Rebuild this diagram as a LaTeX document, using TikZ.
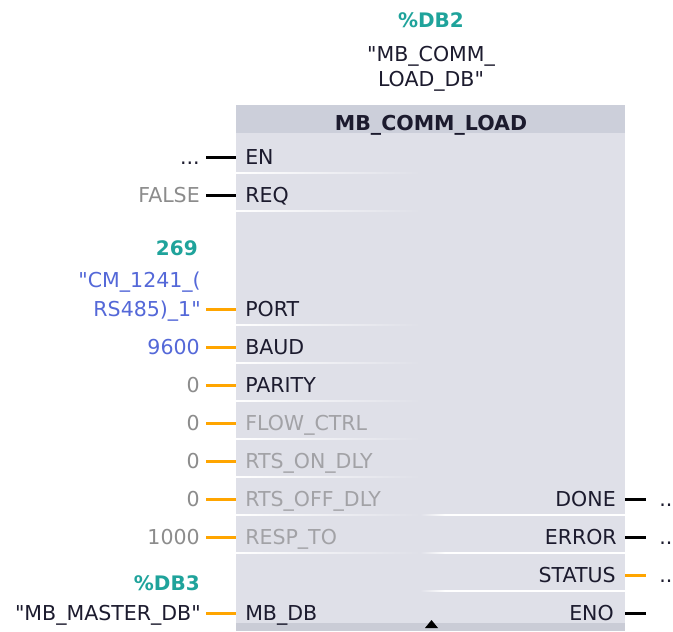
\documentclass[tikz,border=0pt]{standalone}
\usepackage{fontspec}
\setmainfont{DejaVu Sans}
\definecolor{blockfill}{HTML}{DFE0E8}
\definecolor{hdrfill}{HTML}{CCCFDA}
\definecolor{stripfill}{HTML}{CACCD6}
\definecolor{darktxt}{HTML}{1C1B2E}
\definecolor{graytxt}{HTML}{A2A2A6}
\definecolor{valgray}{HTML}{8C8C8C}
\definecolor{tealtxt}{HTML}{1FA39B}
\definecolor{bluetxt}{HTML}{5468D8}
\definecolor{wireorange}{HTML}{FFA500}
\newcommand{\qq}{\textquotedbl}
\tikzset{
  txt/.style={inner sep=0pt, font=\fontsize{15.4}{18}\selectfont},
  pinlbl/.style={txt, text=darktxt, anchor=base west},
  pingray/.style={txt, text=graytxt, anchor=base west},
  outlbl/.style={txt, text=darktxt, anchor=base east},
  valgr/.style={txt, text=valgray, anchor=base east},
  valbl/.style={txt, text=bluetxt, anchor=base east},
  valdk/.style={txt, text=darktxt, anchor=base east},
  tealb/.style={txt, text=tealtxt, font=\fontsize{15}{18}\selectfont\bfseries},
  bwire/.style={line width=2.25pt, draw=black},
  owire/.style={line width=2.25pt, draw=wireorange},
  sepl/.style={left color=white, right color=blockfill},
}
\begin{document}
\begin{tikzpicture}[x=0.75pt,y=-0.75pt]
\useasboundingbox (0,0) rectangle (673,631);
% block
\fill[blockfill] (236,105) rectangle (625,631);
\fill[hdrfill] (236,105) rectangle (625,133);
\fill[stripfill] (236,623) rectangle (625,631);
\fill[black] (425,628) -- (438,628) -- (431.5,620) -- cycle;
% separators (left)
\foreach \yy in {173,211,325,363,401,439,477,515,553}
  \shade[sepl] (236,\yy-0.8) rectangle (420,\yy+0.8);
% separators (right)
\foreach \yy in {515,553,591}{
  \shade[left color=blockfill, right color=white] (420,\yy-0.8) rectangle (445,\yy+0.8);
  \fill[white] (445,\yy-0.8) rectangle (625,\yy+0.8);
}
% title
\node[tealb, anchor=base] (inst) at (431,28) {\%DB2};
\node[txt, text=darktxt, anchor=base] (instn1) at (431,62) {\qq MB\_COMM\_};
\node[txt, text=darktxt, anchor=base] (instn2) at (431,87) {LOAD\_DB\qq};
\node[txt, text=darktxt, anchor=base, font=\fontsize{15.4}{18}\selectfont\bfseries] (hdr) at (431,130) {MB\_COMM\_LOAD};
% input pins
\node[pinlbl] (pEN) at (245,164) {EN};
\node[pinlbl] (pREQ) at (245,202) {REQ};
\node[pinlbl] (pPORT) at (245,316) {PORT};
\node[pinlbl] (pBAUD) at (245,354) {BAUD};
\node[pinlbl] (pPAR) at (245,392) {PARITY};
\node[pingray] (pFLOW) at (245,430) {FLOW\_CTRL};
\node[pingray] (pRON) at (245,468) {RTS\_ON\_DLY};
\node[pingray] (pROFF) at (245,506) {RTS\_OFF\_DLY};
\node[pingray] (pRESP) at (245,544) {RESP\_TO};
\node[pinlbl] (pMB) at (245,620) {MB\_DB};
% output pins
\node[outlbl] (pDONE) at (616,506) {DONE};
\node[outlbl] (pERR) at (617,544) {ERROR};
\node[outlbl] (pSTAT) at (616,582) {STATUS};
\node[outlbl] (pENO) at (614,620) {ENO};
% input values
\node[valdk] (vEN) at (200,164) {...};
\node[valgr] (vREQ) at (200,202) {FALSE};
\node[tealb, anchor=base east] (vPORTa) at (198,255) {269};
\node[valbl] (vPORTb) at (201,287) {\qq CM\_1241\_(};
\node[valbl] (vPORT) at (201,316) {RS485)\_1\qq};
\node[valbl] (vBAUD) at (200,354) {9600};
\node[valgr] (vPAR) at (200,392) {0};
\node[valgr] (vFLOW) at (200,430) {0};
\node[valgr] (vRON) at (200,468) {0};
\node[valgr] (vROFF) at (200,506) {0};
\node[valgr] (vRESP) at (200,544) {1000};
\node[tealb, anchor=base east] (vMBa) at (200,590) {\%DB3};
\node[valdk] (vMB) at (201,620) {\qq MB\_MASTER\_DB\qq};
% output values
\node[txt, text=darktxt, anchor=base west] (oDONE) at (659,506) {..};
\node[txt, text=darktxt, anchor=base west] (oERR) at (659,544) {..};
\node[txt, text=darktxt, anchor=base west] (oSTAT) at (659,582) {..};
% wire coordinates
\foreach \n/\yy in {EN/157,REQ/195,PORT/309,BAUD/347,PAR/385,FLOW/423,RON/461,ROFF/499,RESP/537,MB/613}{
  \coordinate (w\n) at (206,\yy);
  \coordinate (b\n) at (236,\yy);
}
\foreach \n/\yy in {DONE/499,ERR/537,STAT/575,ENO/613}{
  \coordinate (b\n) at (625,\yy);
  \coordinate (w\n) at (646,\yy);
}
\draw[bwire] (wEN) -- (bEN);
\draw[bwire] (wREQ) -- (bREQ);
\foreach \n in {PORT,BAUD,PAR,FLOW,RON,ROFF,RESP,MB}
  \draw[owire] (w\n) -- (b\n);
\draw[bwire] (bDONE) -- (wDONE);
\draw[bwire] (bERR) -- (wERR);
\draw[owire] (bSTAT) -- (wSTAT);
\draw[bwire] (bENO) -- (wENO);
\end{tikzpicture}
\end{document}
